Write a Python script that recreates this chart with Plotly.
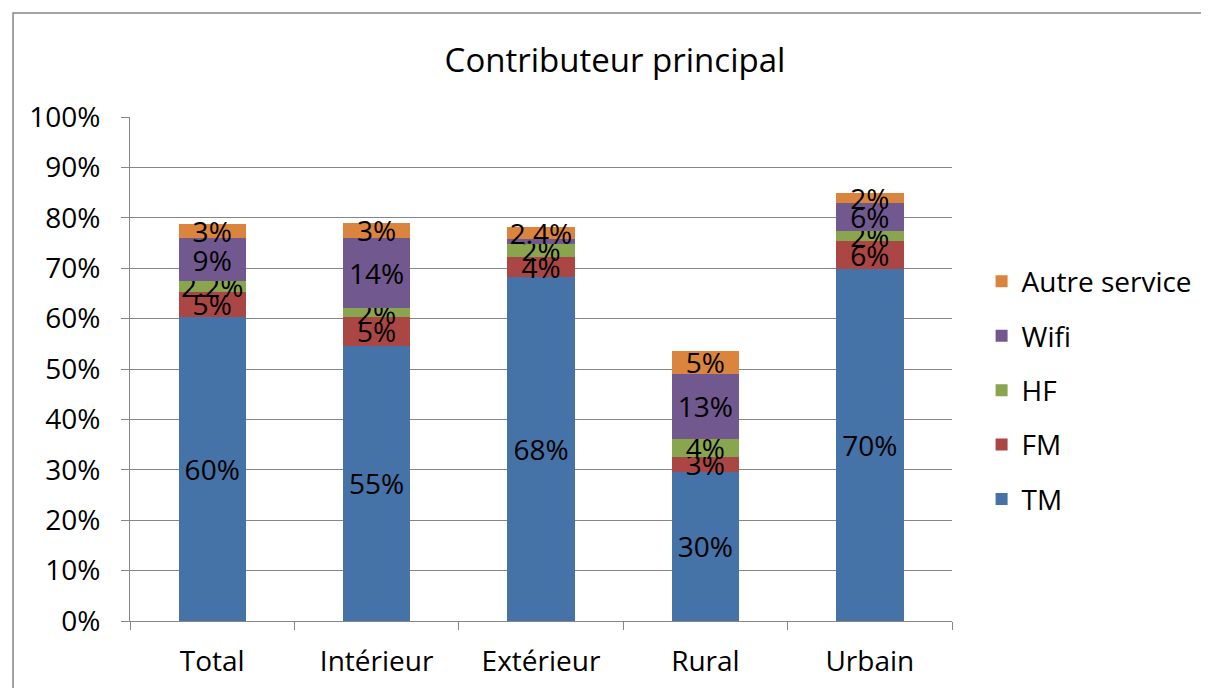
import plotly.graph_objects as go

categories = ["Total", "Intérieur", "Extérieur", "Rural", "Urbain"]

tm = [60.3, 54.6, 68.3, 29.6, 69.8]
fm = [5.0, 5.7, 4.0, 3.0, 5.6]
hf = [2.2, 1.8, 2.6, 3.6, 2.0]
wifi = [8.4, 13.9, 0.8, 12.9, 5.5]
autre = [2.8, 3.0, 2.4, 4.4, 2.0]

# etiquettes telles qu'affichees
tm_labels = ["60%", "55%", "68%", "30%", "70%"]
fm_labels = ["5%", "5%", "4%", "3%", "6%"]
hf_labels = ["2.2%", "2%", "2%", "4%", "2%"]
wifi_labels = ["9%", "14%", "", "13%", "6%"]
autre_labels = ["3%", "3%", "2.4%", "5%", "2%"]

series = [
    ("TM", tm, tm_labels, "#4572A7"),
    ("FM", fm, fm_labels, "#AA4643"),
    ("HF", hf, hf_labels, "#89A54E"),
    ("Wifi", wifi, wifi_labels, "#71588F"),
    ("Autre service", autre, autre_labels, "#DB843D"),
]

FONT = "Open Sans"
GRID = "#868686"

fig = go.Figure()
for i, (name, values, labels, color) in enumerate(series):
    fig.add_trace(go.Bar(
        x=categories,
        y=values,
        name=name,
        legendgroup=name,
        legendrank=len(series) - i,  # Autre service en haut de la legende
        marker_color=color,
        marker_line_width=0,
        text=labels,
        textposition="inside",
        insidetextanchor="middle",
        constraintext="none",
        textfont=dict(family=FONT, size=28, color="black"),
        textangle=0,
    ))

fig.update_layout(
    width=1201,
    height=680,
    barmode="stack",
    bargap=0.59,
    plot_bgcolor="white",
    paper_bgcolor="white",
    margin=dict(l=122, r=257, t=109, b=67),
    title=dict(text="Contributeur principal", x=0.59, xref="paper",
               xanchor="center", y=1 - 52 / 680, yanchor="middle",
               font=dict(family=FONT, size=33, color="black")),
    font=dict(family=FONT, color="black"),
    legend=dict(x=1.036, y=0.458, xanchor="left", yanchor="middle",
                traceorder="grouped", tracegroupgap=15,
                font=dict(family=FONT, size=28, color="black"),
                itemwidth=30),
    showlegend=True,
)

fig.update_yaxes(range=[0, 100], dtick=10, ticksuffix="%",
                 showgrid=True, gridcolor=GRID, gridwidth=1,
                 showline=True, linecolor=GRID, linewidth=1,
                 ticks="outside", ticklen=8, tickcolor=GRID,
                 ticklabelstandoff=15, automargin=False,
                 tickfont=dict(family=FONT, size=28, color="black"),
                 zeroline=False)
fig.update_xaxes(showline=True, linecolor=GRID, linewidth=1,
                 ticks="outside", ticklen=8, tickcolor=GRID,
                 tickson="boundaries", ticklabelstandoff=15,
                 automargin=False,
                 tickfont=dict(family=FONT, size=28, color="black"))

# cadre du graphique
fig.add_shape(type="rect", xref="paper", yref="paper",
              x0=-0.1423, x1=1.32, y0=-0.16, y1=1.2063,
              line=dict(color="#868686", width=1.5))

fig.write_html("out.html")
